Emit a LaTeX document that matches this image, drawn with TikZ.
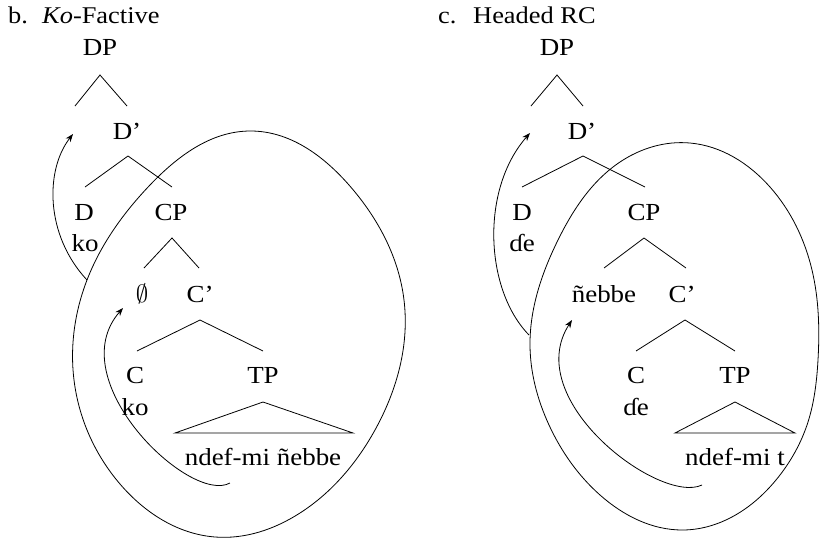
\documentclass[tikz,border=0pt]{standalone}
\usepackage{fontspec}
\setmainfont{Liberation Serif}[FakeStretch=1.1]
\usetikzlibrary{arrows.meta,hobby}
\begin{document}
\begin{tikzpicture}[x=1pt,y=-1pt,
  lab/.style={anchor=base,inner sep=0pt,font=\fontsize{24.5}{28}\selectfont},
  ttl/.style={anchor=base west,inner sep=0pt,font=\fontsize{24}{28}\selectfont},
  br/.style={line width=0.8pt},
  mv/.style={line width=0.8pt,-{Stealth[length=8pt,width=6pt,inset=2.5pt]}},
  loop/.style={line width=0.8pt,use Hobby shortcut,closed=true}]
\useasboundingbox (0,0) rectangle (820,539);
% ---------------- left tree (b) ----------------
\node[ttl] (bnum) at (8,23) {b.};
\node[ttl] (btit) at (42,23) {\textit{Ko}-Factive};
\node[lab] (bDP) at (100,55) {DP};
\node[lab] (bDb) at (127,139) {D’};
\node[lab] (bD) at (84,220) {D};
\node[lab] (bko1) at (85,251) {ko};
\node[lab] (bCP) at (171,220) {CP};
\node[lab] (bnull) at (142,302) {$\emptyset$};
\node[lab] (bCb) at (200,302) {C’};
\node[lab] (bC) at (135,383) {C};
\node[lab] (bko2) at (135,415) {ko};
\node[lab] (bTP) at (263,383) {TP};
\node[lab] (bstr) at (263,465) {ndef-mi ñebbe};
% branch points
\coordinate (bDPa) at (100,75);  \coordinate (bDPl) at (75,106); \coordinate (bDPr) at (127,106);
\coordinate (bDba) at (128,156); \coordinate (bDbl) at (85,187); \coordinate (bDbr) at (172,187);
\coordinate (bCPa) at (172,238); \coordinate (bCPl) at (144,268); \coordinate (bCPr) at (199,268);
\coordinate (bCba) at (200,320); \coordinate (bCbl) at (137,351); \coordinate (bCbr) at (263,351);
\coordinate (bTPa) at (263,402); \coordinate (bTPl) at (175,433); \coordinate (bTPr) at (353,433);
\draw[br] (bDPl) -- (bDPa) -- (bDPr);
\draw[br] (bDbl) -- (bDba) -- (bDbr);
\draw[br] (bCPl) -- (bCPa) -- (bCPr);
\draw[br] (bCbl) -- (bCba) -- (bCbr);
\draw[br] (bTPl) -- (bTPa) -- (bTPr) -- cycle;
% loop around CP
\draw[loop] (87,280) .. (150,185) .. (250,131) .. (349,185) .. (404,300)
  .. (375,430) .. (300,513) .. (215,537) .. (120,484) .. (74,380);
% movement arrows
\coordinate (bm1s) at (87,280); \coordinate (bm1t) at (73,134);
\coordinate (bm2s) at (230,483); \coordinate (bm2t) at (123,308);
\draw[mv] (bm1s) .. controls (45,235) and (45,170) .. (bm1t);
\draw[mv] (bm2s) .. controls (190,505) and (60,380) .. (bm2t);
% ---------------- right tree (c) ----------------
\node[ttl] (cnum) at (438,23) {c.};
\node[ttl] (ctit) at (473,23) {Headed RC};
\node[lab] (cDP) at (557,55) {DP};
\node[lab] (cDb) at (582,139) {D’};
\node[lab] (cD) at (522,220) {D};
\node[lab] (cde1) at (522,251) {ɗe};
\node[lab] (cCP) at (644,220) {CP};
\node[lab] (cneb) at (604,302) {ñebbe};
\node[lab] (cCb) at (682,302) {C’};
\node[lab] (cC) at (636,383) {C};
\node[lab] (cde2) at (636,415) {ɗe};
\node[lab] (cTP) at (735,383) {TP};
\node[lab] (cstr) at (735,465) {ndef-mi t};
\coordinate (cDPa) at (557,75);  \coordinate (cDPl) at (531,106); \coordinate (cDPr) at (583,106);
\coordinate (cDba) at (583,156); \coordinate (cDbl) at (522,187); \coordinate (cDbr) at (645,187);
\coordinate (cCPa) at (644,238); \coordinate (cCPl) at (604,268); \coordinate (cCPr) at (686,268);
\coordinate (cCba) at (685,320); \coordinate (cCbl) at (636,351); \coordinate (cCbr) at (735,351);
\coordinate (cTPa) at (735,402); \coordinate (cTPl) at (675,433); \coordinate (cTPr) at (795,433);
\draw[br] (cDPl) -- (cDPa) -- (cDPr);
\draw[br] (cDbl) -- (cDba) -- (cDbr);
\draw[br] (cCPl) -- (cCPa) -- (cCPr);
\draw[br] (cCbl) -- (cCba) -- (cCbr);
\draw[br] (cTPl) -- (cTPa) -- (cTPr) -- cycle;
\draw[loop] (530,345) .. (558,240) .. (620,162) .. (690,143) .. (770,187)
  .. (812,270) .. (818,360) .. (808,422) .. (776,480) .. (730,518) .. (683,530)
  .. (600,495) .. (549,425);
\coordinate (cm1s) at (529,335); \coordinate (cm1t) at (530,133);
\coordinate (cm2s) at (702,485); \coordinate (cm2t) at (572,320);
\draw[mv] (cm1s) .. controls (485,290) and (480,190) .. (cm1t);
\draw[mv] (cm2s) .. controls (660,505) and (520,400) .. (cm2t);
\end{tikzpicture}
\end{document}
